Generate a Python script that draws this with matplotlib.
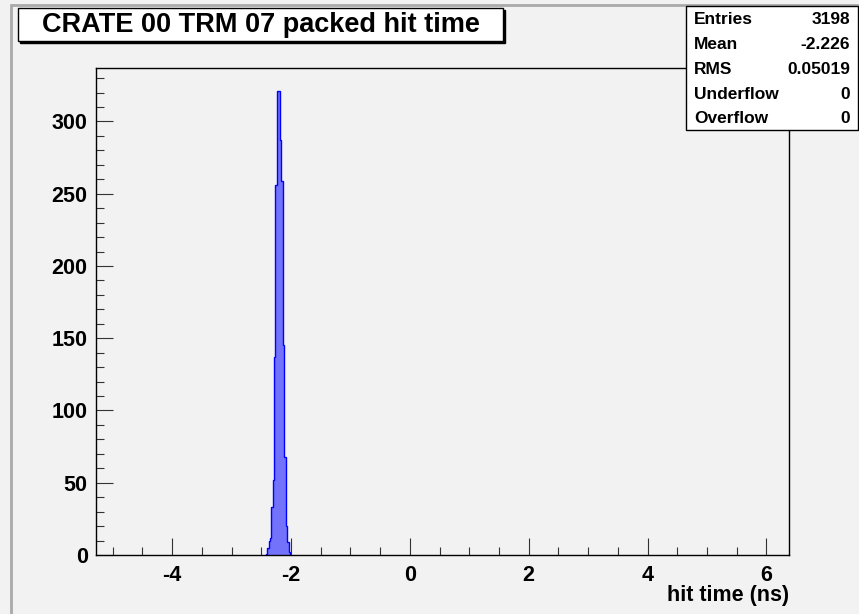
import numpy as np
import matplotlib.pyplot as plt
from matplotlib.patches import Rectangle

# histogram of packed hit time (ns)
bin_start = -2.424
bin_width = 0.0168
counts = [1, 5, 5, 10, 12, 33, 33, 52, 137, 256, 256, 321, 321, 321,
          287, 259, 259, 145, 68, 68, 20, 9, 9, 2]

title = 'CRATE 00 TRM 07 packed hit time'
xlabel = 'hit time (ns)'
stat_names = ['Entries', 'Mean', 'RMS', 'Underflow', 'Overflow']
stat_values = ['3198', '-2.226', '0.05019', '0', '0']

xlim = (-5.28, 6.38)
ylim = (0, 337)

plt.rcParams['font.family'] = ['Liberation Sans', 'DejaVu Sans']
plt.rcParams['font.weight'] = 'bold'
plt.rcParams['axes.unicode_minus'] = False

bg = '#f2f2f2'
fig = plt.figure(figsize=(8.59, 6.14), dpi=100, facecolor=bg)
W, H = 859, 614

def fx(px):
    return px / W

def fy(py):
    return 1 - py / H

# canvas border
fig.patches.append(Rectangle((fx(11), -0.01), 1, fy(5) + 0.01, transform=fig.transFigure,
                             facecolor=bg, edgecolor='#aaaaaa', lw=2, zorder=0))

ax = fig.add_axes([fx(96), fy(555), fx(789) - fx(96), fy(68) - fy(555)])
ax.set_zorder(2)
ax.set_facecolor(bg)

edges = bin_start + bin_width * np.arange(len(counts) + 1)
ax.stairs(counts, edges, fill=True, facecolor='#7272fa', edgecolor='none')
ax.stairs(counts, edges, color='#0000ff', lw=1.0)

ax.set_xlim(*xlim)
ax.set_ylim(*ylim)
for s in ['top', 'right', 'left', 'bottom']:
    ax.spines[s].set_linewidth(1.0)

ax.set_xticks([-4, -2, 0, 2, 4, 6])
ax.set_xticks(np.arange(-5, 6.5, 0.5), minor=True)
ax.set_yticks(np.arange(0, 301, 50))
ax.set_yticks(np.arange(0, 331, 10), minor=True)
ax.tick_params(which='both', direction='in', top=False, right=False,
               labelsize=15.5, width=0.8, color='#333333')
ax.tick_params(axis='x', which='major', length=12, pad=7)
ax.tick_params(axis='x', which='minor', length=6)
ax.tick_params(axis='y', which='major', length=12, pad=6)
ax.tick_params(axis='y', which='minor', length=6)
for lab in ax.get_xticklabels() + ax.get_yticklabels():
    lab.set_fontweight('bold')

fig.text(fx(789), fy(596), xlabel, ha='right', va='center',
         fontsize=15.5, fontweight='bold')

# overlay axes for boxes drawn over the frame
top = fig.add_axes([0, 0, 1, 1], facecolor='none')
top.set_zorder(5)
top.set_xlim(0, W)
top.set_ylim(H, 0)
top.axis('off')

# title box with shadow
top.add_patch(Rectangle((20, 10), 485, 33, facecolor='black', edgecolor='black', lw=1))
top.add_patch(Rectangle((18, 8), 485, 33, facecolor='white', edgecolor='black', lw=1))
top.text(261, 24.5, title, ha='center', va='center', fontsize=19.5, fontweight='bold')

# stats box
top.add_patch(Rectangle((686, 6), 172, 124, facecolor='white', edgecolor='black', lw=1))
for i, (name, val) in enumerate(zip(stat_names, stat_values)):
    y = 20 + i * 24.7
    top.text(694, y, name, ha='left', va='center', fontsize=12.5, fontweight='bold')
    top.text(850, y, val, ha='right', va='center', fontsize=12.5, fontweight='bold')

fig.savefig('out.png', dpi=100, facecolor=bg)
